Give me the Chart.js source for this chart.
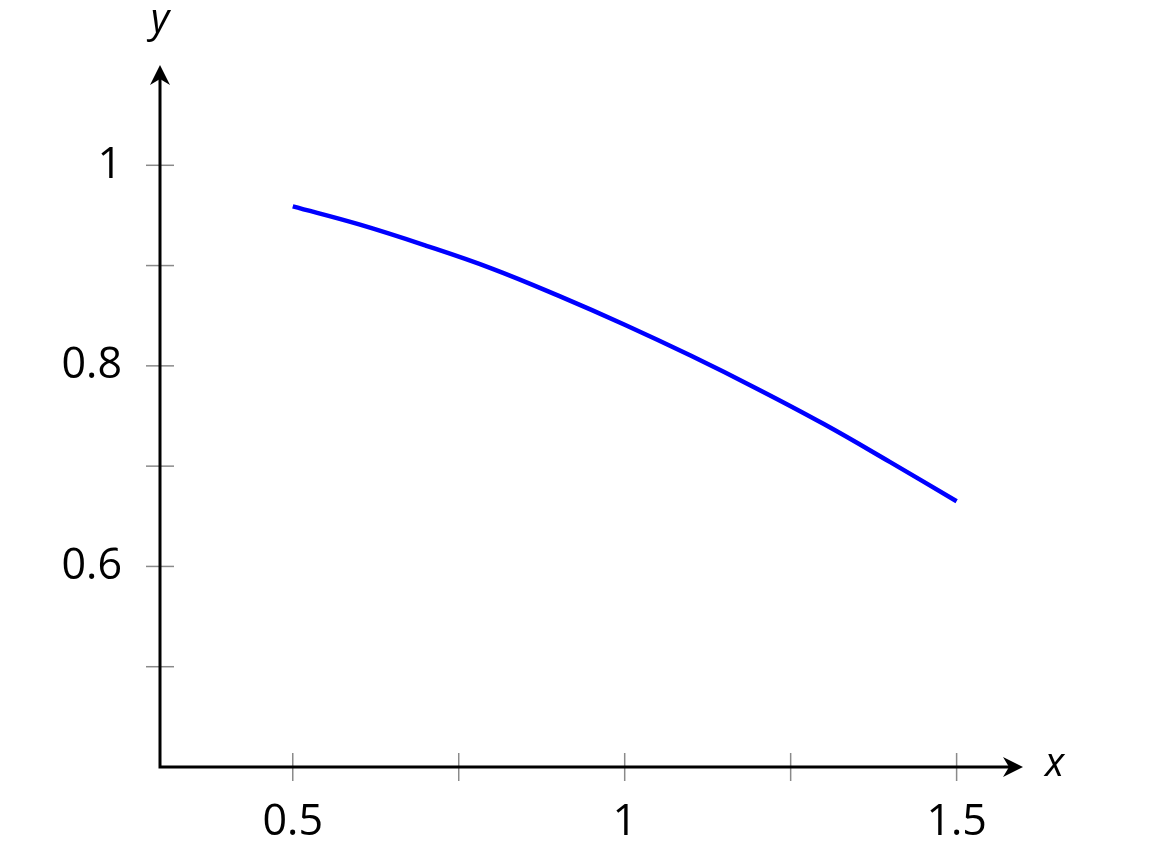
<!DOCTYPE html>
<html>
<head>
<meta charset="utf-8">
<script src="https://cdn.jsdelivr.net/npm/chart.js@4/dist/chart.umd.min.js"></script>
<style>
  html, body { margin: 0; padding: 0; background: #fff; }
  #wrap { width: 1150px; height: 860px; }
</style>
</head>
<body>
<div id="wrap"><canvas id="plot"></canvas></div>
<script>
// values
const xValues = [0.5, 0.6, 0.7, 0.8, 0.9, 1.0, 1.1, 1.2, 1.3, 1.4, 1.5];
const yValues = [0.959, 0.941, 0.920, 0.897, 0.870, 0.841, 0.810, 0.777, 0.742, 0.704, 0.665];

const xTicks = [0.5, 0.75, 1, 1.25, 1.5];
const xLabels = ['0.5', '', '1', '', '1.5'];
const yTicks = [0.5, 0.6, 0.7, 0.8, 0.9, 1];
const yLabels = ['', '0.6', '', '0.8', '', '1'];

const points = xValues.map((x, i) => ({x: x, y: yValues[i]}));

const labelFont = {family: "'Open Sans', sans-serif", size: 43};

// axes with arrows, crossing tick marks, axis names
const axesPlugin = {
  id: 'axesArrows',
  afterDatasetsDraw(chart) {
    const c = chart.ctx;
    const a = chart.chartArea;
    const xs = chart.scales.x, ys = chart.scales.y;
    c.save();
    // tick marks
    c.strokeStyle = '#8a8a8a';
    c.lineWidth = 1.5;
    xTicks.forEach(v => {
      const px = xs.getPixelForValue(v);
      c.beginPath(); c.moveTo(px, a.bottom - 14); c.lineTo(px, a.bottom + 14); c.stroke();
    });
    yTicks.forEach(v => {
      const py = ys.getPixelForValue(v);
      c.beginPath(); c.moveTo(a.left - 14, py); c.lineTo(a.left + 14, py); c.stroke();
    });
    // axis lines
    c.strokeStyle = '#000';
    c.fillStyle = '#000';
    c.lineWidth = 3;
    c.beginPath();
    c.moveTo(a.left, a.top + 6); c.lineTo(a.left, a.bottom); c.lineTo(a.right - 6, a.bottom);
    c.stroke();
    // arrow heads
    c.beginPath();
    c.moveTo(a.right, a.bottom);
    c.lineTo(a.right - 20, a.bottom - 10);
    c.lineTo(a.right - 14, a.bottom);
    c.lineTo(a.right - 20, a.bottom + 10);
    c.closePath(); c.fill();
    c.beginPath();
    c.moveTo(a.left, a.top);
    c.lineTo(a.left - 10, a.top + 20);
    c.lineTo(a.left, a.top + 14);
    c.lineTo(a.left + 10, a.top + 20);
    c.closePath(); c.fill();
    // axis names
    c.font = "italic 40px 'Open Sans', sans-serif";
    c.textBaseline = 'middle';
    c.textAlign = 'left';
    c.fillText('x', a.right + 22, a.bottom - 2);
    c.textAlign = 'center';
    c.fillText('y', a.left, a.top - 44);
    c.restore();
  }
};

const config = {
  type: 'line',
  data: {
    datasets: [{
      data: points,
      borderColor: '#0000ff',
      borderWidth: 4.5,
      pointRadius: 0,
      fill: false,
      tension: 0.4
    }]
  },
  options: {
    responsive: true,
    maintainAspectRatio: false,
    animation: false,
    events: [],
    layout: {padding: {left: 0, right: 127, top: 65, bottom: 0}},
    plugins: {legend: {display: false}, tooltip: {enabled: false}},
    scales: {
      x: {
        type: 'linear',
        min: 0.3,
        max: 1.6,
        grid: {display: false},
        border: {display: false},
        afterBuildTicks: s => { s.ticks = xTicks.map(v => ({value: v})); },
        afterFit: s => { s.height = 860 - 767; },
        ticks: {
          color: '#000',
          font: labelFont,
          padding: 22,
          maxRotation: 0,
          autoSkip: false,
          callback: (v, i) => xLabels[i]
        }
      },
      y: {
        type: 'linear',
        min: 0.4,
        max: 1.1,
        grid: {display: false},
        border: {display: false},
        afterBuildTicks: s => { s.ticks = yTicks.map(v => ({value: v})); },
        afterFit: s => { s.width = 160; },
        ticks: {
          color: '#000',
          font: labelFont,
          padding: 30,
          autoSkip: false,
          callback: (v, i) => yLabels[i]
        }
      }
    }
  },
  plugins: [axesPlugin]
};

new Chart(document.getElementById('plot'), config);
</script>
</body>
</html>
